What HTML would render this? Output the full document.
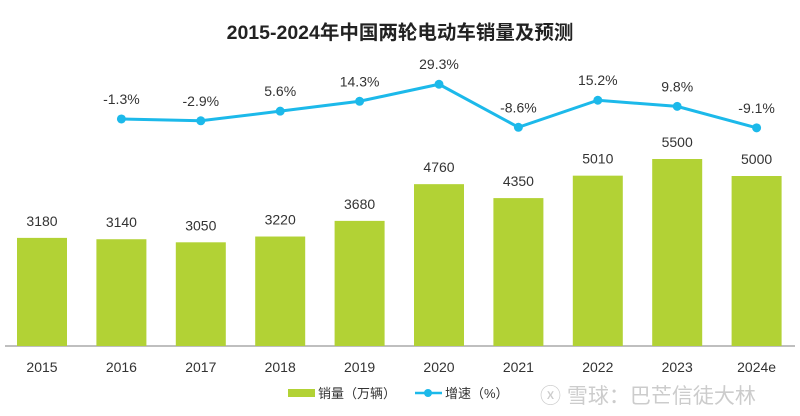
<!DOCTYPE html>
<html><head><meta charset="utf-8"><style>
body{margin:0;background:#fff;}
svg{display:block;font-family:"Liberation Sans","Noto Sans CJK SC",sans-serif;}
</style></head><body>
<svg id="chart" width="800" height="416">
<text x="400" y="39" text-anchor="middle" font-size="19.5" font-weight="bold" fill="#222">2015-2024年中国两轮电动车销量及预测</text>
<line x1="5" x2="795" y1="346" y2="346" stroke="#aaa" stroke-width="1.5"/>
<g id="bars"></g><g id="line"></g><g id="xlabels"></g>
<g>
<rect x="288" y="389" width="27" height="8" fill="#b2d235"/>
<text x="318" y="398" font-size="13" fill="#333">销量（万辆）</text>
<line x1="415" x2="442" y1="393" y2="393" stroke="#1cb9ea" stroke-width="2.5"/>
<circle cx="428" cy="393" r="4" fill="#1cb9ea"/>
<text x="445" y="398" font-size="13" fill="#333">增速（%）</text>
</g>
<text x="540" y="403" font-size="21" fill="#ccc">ⓧ 雪球：巴芒信徒大林</text>
</svg>
<script>
const categories=["2015","2016","2017","2018","2019","2020","2021","2022","2023","2024e"];
const sales=[3180,3140,3050,3220,3680,4760,4350,5010,5500,5000];
const growth=[null,-1.3,-2.9,5.6,14.3,29.3,-8.6,15.2,9.8,-9.1];
const NS="http://www.w3.org/2000/svg";
const xPos=i=>42+i*79.4;
const yBar=v=>346-v*0.034;
const yLine=v=>117.5-v*1.135;
function mk(tag,attrs,parent,txt){const e=document.createElementNS(NS,tag);for(const k in attrs)e.setAttribute(k,attrs[k]);if(txt!=null)e.textContent=txt;parent.appendChild(e);return e;}
const gb=document.getElementById('bars'),gl=document.getElementById('line'),gx=document.getElementById('xlabels');
sales.forEach((v,i)=>{
 const r=mk('rect',{x:xPos(i)-25,y:yBar(v),width:50,height:346-yBar(v),fill:'#b2d235'},gb);
 
 
 const t=mk('text',{x:xPos(i),y:yBar(v)-12,'text-anchor':'middle','font-size':14,fill:'#333'},gb,String(v));
 
 
 const xl=mk('text',{x:xPos(i),y:372,'text-anchor':'middle','font-size':14,fill:'#333'},gx,categories[i]);
 
 
});
let pts=[];growth.forEach((v,i)=>{if(v!=null)pts.push(xPos(i)+','+yLine(v));});
const pl=mk('polyline',{points:pts.join(' '),fill:'none',stroke:'#1cb9ea','stroke-width':3},gl);


growth.forEach((v,i)=>{if(v==null)return;
 const c=mk('circle',{cx:xPos(i),cy:yLine(v),r:4.5,fill:'#1cb9ea'},gl);
 
 
 const t=mk('text',{x:xPos(i),y:yLine(v)-15,'text-anchor':'middle','font-size':14,fill:'#333'},gl,v.toFixed(1)+'%');
 
 
});
</script>
</body></html>
